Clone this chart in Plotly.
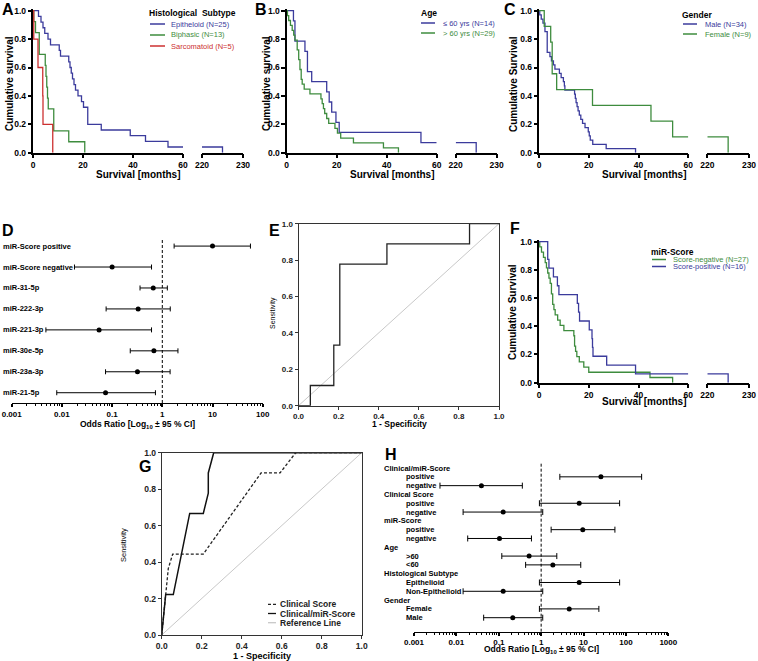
import plotly.graph_objects as go

W, H = 758, 661
FONT = "Liberation Sans"
BLUE = "#3b3b9c"
GREEN = "#3e8c3e"
RED = "#cc3030"

# ---- data ----
# A: histological subtype (event time in months, survival after the event)
epi_t = [0, 2.2, 3.2, 4.0, 4.7, 6.0, 7.0, 10.5, 11.0, 14.3, 14.8, 15.3, 15.8, 16.4, 17.0, 18.0, 19.4, 20.2, 21.9, 27.3, 38.9, 45.0, 54.0, 225]
epi_s = [1.0, 0.96, 0.92, 0.88, 0.84, 0.80, 0.76, 0.72, 0.68, 0.64, 0.60, 0.56, 0.52, 0.48, 0.44, 0.40, 0.36, 0.32, 0.20, 0.16, 0.12, 0.08, 0.04, 0.0]
bip_t = [0, 0.3, 1.0, 2.5, 4.9, 5.2, 5.5, 5.8, 6.1, 8.3, 14.3, 20.7]
bip_s = [1.0, 0.923, 0.846, 0.692, 0.615, 0.538, 0.462, 0.385, 0.308, 0.154, 0.077, 0.0]
sar_t = [0, 0.3, 2.0, 3.9, 4.0, 7.9]
sar_s = [1.0, 0.8, 0.6, 0.4, 0.2, 0.0]

# B: age
y60_t = [0, 2.7, 3.3, 7.3, 8.3, 10.0, 16.0, 17.0, 18.0, 19.7, 21.0, 53.7, 225]
y60_s = [1.0, 0.929, 0.786, 0.714, 0.571, 0.5, 0.429, 0.357, 0.286, 0.214, 0.143, 0.071, 0.0]
o60_t = [0, 0.3, 0.8, 1.5, 2.2, 2.8, 3.3, 4.2, 4.8, 5.3, 5.8, 6.2, 7.0, 9.3, 13.7, 14.2, 14.7, 15.2, 16.0, 16.8, 19.3, 20.3, 21.6, 26.7, 38.7, 44.7]
o60_s = [1.0, 0.966, 0.931, 0.897, 0.862, 0.828, 0.793, 0.724, 0.655, 0.586, 0.517, 0.483, 0.448, 0.414, 0.379, 0.345, 0.310, 0.276, 0.241, 0.207, 0.172, 0.138, 0.103, 0.069, 0.034, 0.0]

# C: gender
male_t = [0, 0.3, 0.9, 1.6, 2.4, 3.3, 4.4, 5.0, 5.8, 6.4, 8.2, 8.9, 9.8, 10.2, 10.4, 14.3, 14.6, 14.9, 15.3, 15.7, 16.2, 16.8, 17.5, 18.5, 19.8, 20.2, 20.6, 21.6, 27.0, 38.8]
male_s = [1.0, 0.971, 0.941, 0.912, 0.853, 0.706, 0.676, 0.647, 0.618, 0.588, 0.559, 0.529, 0.500, 0.471, 0.441, 0.412, 0.382, 0.353, 0.324, 0.294, 0.265, 0.235, 0.206, 0.176, 0.147, 0.118, 0.088, 0.059, 0.029, 0.0]
fem_t = [0, 2.1, 4.7, 5.3, 7.1, 21.5, 45.0, 53.7, 225]
fem_s = [1.0, 0.889, 0.778, 0.556, 0.444, 0.333, 0.222, 0.111, 0.0]

# F: miR-score
neg_t = [0, 0.3, 1.0, 1.8, 2.5, 3.0, 3.5, 4.0, 4.5, 5.0, 5.5, 6.0, 6.5, 7.5, 8.5, 10.0, 14.0, 14.3, 14.7, 15.2, 16.2, 18.0, 20.0, 44.6, 53.7]
neg_s = [1.0, 0.963, 0.926, 0.889, 0.852, 0.815, 0.778, 0.741, 0.704, 0.630, 0.556, 0.519, 0.481, 0.444, 0.407, 0.370, 0.333, 0.259, 0.222, 0.185, 0.148, 0.111, 0.074, 0.037, 0.0]
pos_t = [0, 3.5, 4.0, 5.8, 7.4, 8.0, 15.4, 15.9, 16.3, 20.2, 21.3, 21.5, 21.7, 27.2, 38.8, 225]
pos_s = [1.0, 0.875, 0.8125, 0.75, 0.6875, 0.625, 0.5625, 0.5, 0.4375, 0.375, 0.3125, 0.25, 0.1875, 0.125, 0.0625, 0.0]

# D: odds ratios
d_names = ["miR-Score positive", "miR-Score negative", "miR-31-5p", "miR-222-3p",
           "miR-221-3p", "miR-30e-5p", "miR-23a-3p", "miR-21-5p"]
d_or = [10, 0.10, 0.66, 0.33, 0.055, 0.68, 0.32, 0.074]
d_lo = [1.72, 0.0178, 0.36, 0.076, 0.0048, 0.23, 0.074, 0.0079]
d_hi = [57, 0.61, 1.26, 1.44, 0.61, 2.05, 1.43, 0.73]

# E: ROC (step)
e_fpr = [0, 0.059, 0.176, 0.206, 0.441, 0.853, 1.0]
e_tpr = [0, 0.111, 0.333, 0.778, 0.889, 1.0, 1.0]

# G: ROC curves
g_clin_fpr = [0, 0.017, 0.033, 0.055, 0.208, 0.497, 0.592, 0.67, 1.0]
g_clin_tpr = [0, 0.21, 0.365, 0.444, 0.444, 0.889, 0.889, 1.0, 1.0]
g_comb_fpr = [0, 0.02, 0.058, 0.14, 0.208, 0.233, 0.233, 0.26, 1.0]
g_comb_tpr = [0, 0.222, 0.222, 0.667, 0.667, 0.778, 0.889, 1.0, 1.0]

# H: multivariate odds ratios
h_groups = ["Clinical/miR-Score", "Clinical Score", "miR-Score", "Age", "Histological Subtype", "Gender"]
h_items = [["positive", "negative"], ["positive", "negative"], ["positive", "negative"],
           ["&gt;60", "&lt;60"], ["Epithelioid", "Non-Epithelioid"], ["Female", "Male"]]
h_or = [[25.7, 0.039], [7.9, 0.127], [9.6, 0.104], [0.52, 1.89], [7.9, 0.127], [4.6, 0.214]]
h_lo = [[2.76, 0.0041], [0.91, 0.0144], [1.72, 0.0185], [0.118, 0.43], [0.91, 0.0144], [0.91, 0.044]]
h_hi = [[235, 0.36], [71, 1.09], [55, 0.59], [2.34, 8.6], [71, 1.09], [23, 1.09]]


fig = go.Figure()
layout = {}


def dom_x(a, b):
    return [a / W, b / W]


def dom_y(top, bottom):
    return [1 - bottom / H, 1 - top / H]


def axkey(k, n):
    return k + "axis" if n == 1 else k + "axis" + str(n)


def axref(k, n):
    return k if n == 1 else k + str(n)


def label(x, y, text, size=9, bold=True, color="black", xanchor="center", angle=0):
    fig.add_annotation(x=x / W, y=1 - y / H, xref="paper", yref="paper",
                       text="<b>" + text + "</b>" if bold else text, showarrow=False,
                       font=dict(family=FONT, size=size, color=color), borderpad=0,
                       xanchor=xanchor, yanchor="middle", textangle=angle)


def legline(x0, x1, y, color, dash="solid", width=1.5):
    fig.add_shape(type="line", xref="paper", yref="paper", x0=x0 / W, x1=x1 / W,
                  y0=1 - y / H, y1=1 - y / H, line=dict(color=color, width=width, dash=dash))


TICK = dict(family=FONT, size=8.5, color="black", weight="bold")
AX = dict(showline=True, linecolor="black", linewidth=1.5, ticks="outside", ticklen=3.5,
          tickwidth=1.5, tickcolor="black", showgrid=False, zeroline=False, tickfont=TICK)


def km_axes(xa, xb, ya, x1px, x2px, ytop, ybot):
    ext = 0.015
    top = ytop - ext * (ybot - ytop)
    layout[axkey("x", xa)] = dict(domain=dom_x(*x1px), range=[0, 60], anchor=axref("y", ya),
                                  tickvals=[0, 20, 40, 60], **AX)
    layout[axkey("x", xb)] = dict(domain=dom_x(*x2px), range=[220, 230], anchor=axref("y", ya),
                                  tickvals=[220, 230], **AX)
    layout[axkey("y", ya)] = dict(domain=dom_y(top, ybot), range=[0, 1 + ext], anchor=axref("x", xa),
                                  tickvals=[0, 0.2, 0.4, 0.6, 0.8, 1.0], tickformat=".1f", **AX)


def add_km(t, s, color, xa, xb, ya):
    n1 = len([v for v in t if v <= 60])
    t1, s1 = t[:n1], s[:n1]
    if s1[-1] > 0:
        t1 = t1 + [60]
        s1 = s1 + [s1[-1]]
    style = dict(mode="lines", line=dict(color=color, width=1.3, shape="hv"),
                 showlegend=False, hoverinfo="skip")
    fig.add_trace(go.Scatter(x=t1, y=s1, xaxis=axref("x", xa), yaxis=axref("y", ya), **style))
    if n1 < len(t):
        fig.add_trace(go.Scatter(x=[220] + t[n1:], y=[s1[-1]] + s[n1:],
                                 xaxis=axref("x", xb), yaxis=axref("y", ya), **style))


# ---- A ----
km_axes(1, 2, 1, (33, 183), (202, 243), 10.7, 152.7)
add_km(epi_t, epi_s, BLUE, 1, 2, 1)
add_km(bip_t, bip_s, GREEN, 1, 2, 1)
add_km(sar_t, sar_s, RED, 1, 2, 1)
label(138, 174, "Survival [months]", 10)
label(9, 84, "Cumulative survival", 10, angle=-90)
label(8, 9, "A", 16)
label(148, 13, "Histological  Subtype", 8.5, xanchor="left")
for i, (name, col) in enumerate([("Epitheloid (N=25)", BLUE), ("Biphasic (N=13)", GREEN),
                                 ("Sarcomatoid (N=5)", RED)]):
    legline(150, 165, 24 + 11 * i, col)
    label(170, 24 + 11 * i, name, 7.5, bold=False, color=col, xanchor="left")

# ---- B ----
km_axes(3, 4, 2, (286.7, 436.7), (455.7, 496.7), 10.7, 152.7)
add_km(y60_t, y60_s, BLUE, 3, 4, 2)
add_km(o60_t, o60_s, GREEN, 3, 4, 2)
label(391.7, 174, "Survival [months]", 10)
label(266, 84, "Cumulative survival", 10, angle=-90)
label(261, 9, "B", 16)
label(420, 13, "Age", 8.5, xanchor="left")
for i, (name, col) in enumerate([("\u2264 60 yrs (N=14)", BLUE), ("> 60 yrs (N=29)", GREEN)]):
    legline(421, 435, 23 + 10 * i, col)
    label(442, 23 + 10 * i, name, 7.5, bold=False, color=col, xanchor="left")

# ---- C ----
km_axes(5, 6, 3, (539, 688.3), (707.3, 749), 10.7, 152.7)
add_km(male_t, male_s, BLUE, 5, 6, 3)
add_km(fem_t, fem_s, GREEN, 5, 6, 3)
label(644, 174, "Survival [months]", 10)
label(513, 84, "Cumulative Survival", 10, angle=-90)
label(510, 9, "C", 16)
label(681, 15, "Gender", 8.5, xanchor="left")
for i, (name, col) in enumerate([("Male (N=34)", BLUE), ("Female (N=9)", GREEN)]):
    legline(683, 697, 24 + 10 * i, col)
    label(704, 24 + 10 * i, name, 7.5, bold=False, color=col, xanchor="left")

# ---- F ----
km_axes(9, 10, 6, (539, 688.3), (707.3, 749), 241.7, 382.7)
add_km(neg_t, neg_s, GREEN, 9, 10, 6)
add_km(pos_t, pos_s, BLUE, 9, 10, 6)
label(644, 402, "Survival [months]", 10)
label(513, 312, "Cumulative Survival", 10, angle=-90)
label(515, 228, "F", 16)
label(650, 252, "miR-Score", 8.5, xanchor="left")
for i, (name, col) in enumerate([("Score-negative (N=27)", GREEN), ("Score-positive (N=16)", BLUE)]):
    legline(652, 666, 259.5 + 7 * i, col)
    label(672, 259.5 + 7 * i, name, 7.5, bold=False, color=col, xanchor="left")


# ---- forest plots ----
def minor_log(lo, hi):
    return [m * 10 ** e for e in range(lo, hi) for m in range(2, 10)]


def forest_axes(xn, yn, xpx, top, bottom, xr, yr, ticks):
    layout[axkey("x", xn)] = dict(type="log", domain=dom_x(*xpx), range=xr, anchor=axref("y", yn),
                                  tickvals=ticks, ticktext=[str(v) for v in ticks],
                                  minor=dict(ticks="outside", ticklen=2, tickwidth=1, tickcolor="black",
                                             tickvals=minor_log(xr[0], xr[1])),
                                  **dict(AX, tickfont=dict(TICK, size=8), linewidth=1.3, ticklen=3))
    layout[axkey("y", yn)] = dict(domain=dom_y(top, bottom), range=yr, anchor=axref("x", xn),
                                  visible=False, fixedrange=True)
    fig.add_shape(type="line", xref=axref("x", xn), yref=axref("y", yn) + " domain",
                  x0=1, x1=1, y0=0, y1=1, line=dict(color="black", width=1, dash="3px,2px"))


def forest_trace(orv, lo, hi, rows, xn, yn, cap):
    fig.add_trace(go.Scatter(
        x=orv, y=rows, mode="markers", xaxis=axref("x", xn), yaxis=axref("y", yn),
        marker=dict(color="black", size=5),
        error_x=dict(type="data", symmetric=False,
                     array=[h - o for h, o in zip(hi, orv)],
                     arrayminus=[o - l for o, l in zip(orv, lo)],
                     color="black", thickness=1, width=cap),
        showlegend=False, hoverinfo="skip"))


# D
forest_axes(7, 4, (11.7, 262.7), 240, 403, [-3, 2], [-0.49, 7.29], [0.001, 0.01, 0.1, 1, 10, 100])
d_rows = [len(d_names) - 1 - i for i in range(len(d_names))]
forest_trace(d_or, d_lo, d_hi, d_rows, 7, 4, 2.5)
for name, r in zip(d_names, d_rows):
    fig.add_annotation(x=2 / W, xref="paper", y=r, yref="y4", text="<b>" + name + "</b>", borderpad=0,
                       showarrow=False, xanchor="left", font=dict(family=FONT, size=7.5, color="black"))
label(137, 424, "Odds Ratio [Log<sub>10</sub> \u00b1 95 % CI]", 8.5)
label(8, 231, "D", 16)

# H
forest_axes(12, 8, (414, 668.3), 461.7, 631.7, [-3, 3], [-1.59, 17.72],
            [0.001, 0.01, 0.1, 1, 10, 100, 1000])
h_x, h_l, h_h, h_r = [], [], [], []
row = 17
for g, items, ors, los, his in zip(h_groups, h_items, h_or, h_lo, h_hi):
    fig.add_annotation(x=383 / W, xref="paper", y=row, yref="y8", text="<b>" + g + "</b>", borderpad=0,
                       showarrow=False, xanchor="left", font=dict(family=FONT, size=7.5, color="black"))
    row -= 1
    for it, o, l, h in zip(items, ors, los, his):
        fig.add_annotation(x=405 / W, xref="paper", y=row, yref="y8", text="<b>" + it + "</b>", borderpad=0,
                           showarrow=False, xanchor="left", font=dict(family=FONT, size=7.5, color="black"))
        h_x.append(o); h_l.append(l); h_h.append(h); h_r.append(row)
        row -= 1
forest_trace(h_x, h_l, h_h, h_r, 12, 8, 3)
label(541, 649, "Odds Ratio [Log<sub>10</sub> \u00b1 95 % CI]", 8.5)
label(391, 454, "H", 16)


# ---- ROC panels ----
def roc_axes(xn, yn, xpx, top, bottom, tsize):
    box = dict(showline=True, mirror=True, linecolor="#333333", linewidth=1, ticks="outside",
               ticklen=3, tickwidth=1, tickcolor="#333333", showgrid=False, zeroline=False,
               range=[0, 1], tickvals=[0, 0.2, 0.4, 0.6, 0.8, 1.0], tickformat=".1f",
               tickfont=dict(family=FONT, size=tsize, color="#222222", weight="bold"))
    layout[axkey("x", xn)] = dict(domain=dom_x(*xpx), anchor=axref("y", yn), **box)
    layout[axkey("y", yn)] = dict(domain=dom_y(top, bottom), anchor=axref("x", xn), **box)
    fig.add_trace(go.Scatter(x=[0, 1], y=[0, 1], mode="lines", xaxis=axref("x", xn), yaxis=axref("y", yn),
                             line=dict(color="#c8c8c8", width=1), showlegend=False, hoverinfo="skip"))


# E
roc_axes(8, 5, (298.5, 499), 223.7, 405.7, 8)
fig.add_trace(go.Scatter(x=e_fpr, y=e_tpr, mode="lines", xaxis="x8", yaxis="y5",
                         line=dict(color="#222222", width=1.3, shape="hv"), showlegend=False, hoverinfo="skip"))
label(399, 424.5, "1 - Specificity", 8.5)
label(273, 313, "Sensitivity", 7, bold=False, angle=-90)
label(274, 230, "E", 16)

# G
roc_axes(11, 7, (161.7, 361.7), 452.7, 635, 8.5)
fig.add_trace(go.Scatter(x=g_clin_fpr, y=g_clin_tpr, mode="lines", xaxis="x11", yaxis="y7",
                         line=dict(color="#222222", width=1.3, dash="3px,2px"), showlegend=False, hoverinfo="skip"))
fig.add_trace(go.Scatter(x=g_comb_fpr, y=g_comb_tpr, mode="lines", xaxis="x11", yaxis="y7",
                         line=dict(color="#111111", width=1.5), showlegend=False, hoverinfo="skip"))
label(262, 655.5, "1 - Specificity", 9)
label(123, 545, "Sensitivity", 7.5, bold=False, angle=-90)
label(145, 466, "G", 16)
for i, (name, col, dash) in enumerate([("Clinical Score", "#222222", "3px,2px"),
                                       ("Clinical/miR-Score", "#111111", "solid"),
                                       ("Reference Line", "#c8c8c8", "solid")]):
    legline(268, 276, 604.3 + 9.2 * i, col, dash=dash, width=1.3)
    label(279, 604.3 + 9.2 * i, name, 8.5, color="#222222", xanchor="left")

fig.update_layout(width=W, height=H, margin=dict(l=0, r=0, t=0, b=0, autoexpand=False),
                  paper_bgcolor="white", plot_bgcolor="white", showlegend=False,
                  font=dict(family=FONT, color="black"), **layout)

# the page body has a default 8px margin; drop it so the figure sits at the window origin
fig.write_html("out.html", config={"displayModeBar": False},
               post_script="document.body.style.margin='0px';")
